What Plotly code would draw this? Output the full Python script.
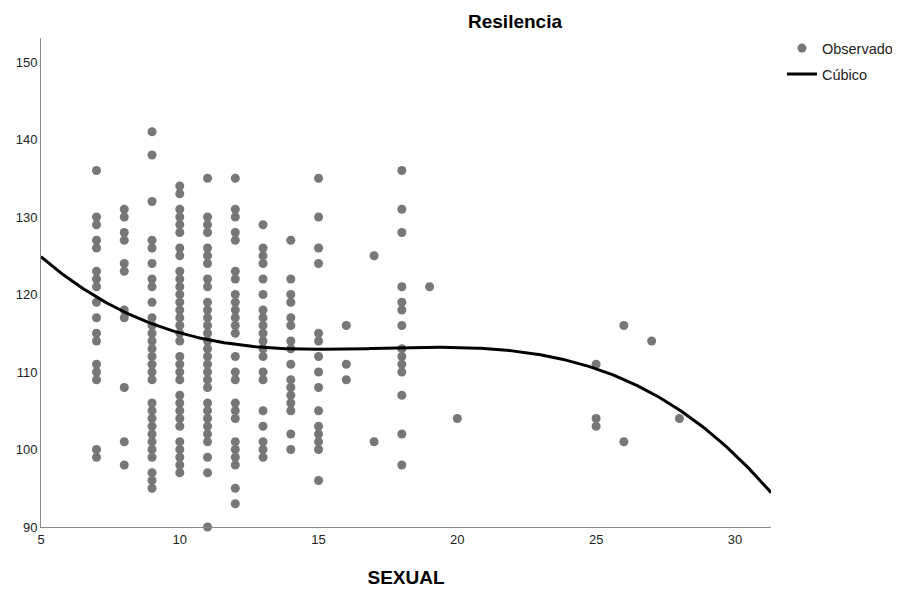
import numpy as np
import plotly.graph_objects as go

# Observed data: SEXUAL (x) and Resilencia (y), one list per SEXUAL value
x7 = [136,130,129,127,126,123,122,121,119,117,115,114,111,110,109,100,99]
x8 = [131,130,128,127,124,123,118,117,108,101,98]
x9 = [141,138,132,127,126,124,122,121,119,117,116,115,114,113,112,111,110,109,
      106,105,104,103,102,101,100,99,97,96,95]
x10 = [134,133,131,130,129,128,126,125,123,122,121,120,119,118,117,116,115,114,
       112,111,110,109,107,106,105,104,103,101,100,99,98,97]
x11 = [135,130,129,128,126,125,124,122,121,119,118,117,116,115,114,113,112,111,
       110,109,108,106,105,104,103,102,101,99,97,90]
x12 = [135,131,130,128,127,123,122,120,119,118,117,116,115,112,110,109,106,105,
       104,101,100,99,98,95,93]
x13 = [129,126,125,124,122,120,118,117,116,115,114,113,112,110,109,105,103,101,100,99]
x14 = [127,122,120,119,117,116,114,113,111,109,108,107,106,105,102,100]
x15 = [135,130,126,124,115,114,112,110,108,105,103,102,101,100,96]
x16 = [116,111,109]
x17 = [125,101]
x18 = [136,131,128,121,119,118,116,113,112,111,110,107,102,98]
x19 = [121]
x20 = [104]
x25 = [111,104,103]
x26 = [116,101]
x27 = [114]
x28 = [104]

columns = {7: x7, 8: x8, 9: x9, 10: x10, 11: x11, 12: x12, 13: x13, 14: x14,
           15: x15, 16: x16, 17: x17, 18: x18, 19: x19, 20: x20, 25: x25,
           26: x26, 27: x27, 28: x28}

# Cubic fit curve: values
curve_x = [5, 10, 12.35, 15.95, 19.7, 23.7, 25.04, 28.03, 31.3]
curve_y = [124.8, 115.2, 113.5, 112.8, 113.0, 111.5, 110.9, 104.9, 94.4]

xtick_vals = [5, 10, 15, 20, 25, 30]
ytick_vals = [90, 100, 110, 120, 130, 140, 150]

xs = []
ys = []
for k, vals in columns.items():
    xs += [k] * len(vals)
    ys += vals

coef = np.polyfit(curve_x, curve_y, 3)
xc = np.linspace(5, 31.3, 300)
yc = np.polyval(coef, xc)

W, H = 892, 582  # page has an 8px body margin

fig = go.Figure()
fig.add_trace(go.Scatter(
    x=xs, y=ys, mode="markers", name="Observado", legendgroup="a",
    marker=dict(color="#777777", size=9, line=dict(width=0)),
    cliponaxis=False,
))
fig.add_trace(go.Scatter(
    x=xc, y=yc, mode="lines", name="Cúbico", legendgroup="b",
    line=dict(color="black", width=3),
))

fig.update_layout(
    width=W, height=H,
    plot_bgcolor="white", paper_bgcolor="white",
    margin=dict(l=33, r=129, t=30, b=63, autoexpand=False),
    font=dict(family="Liberation Sans, Arial, sans-serif", size=13, color="#222222"),
    title=dict(text="<b>Resilencia</b>", x=507/W, xanchor="center", xref="container",
               y=1-13/H, yanchor="middle", yref="container",
               font=dict(size=19, color="black")),
    xaxis=dict(range=[5, 31.3], tickvals=xtick_vals, showgrid=False, zeroline=False,
               showline=True, linecolor="#888888", linewidth=1, ticks="",
               automargin=False, tickfont=dict(size=13),
               title=dict(text="<b>SEXUAL</b>", font=dict(size=19, color="black"), standoff=25)),
    yaxis=dict(range=[90, 153.1], tickvals=ytick_vals, showgrid=False, zeroline=False,
               showline=True, linecolor="#888888", linewidth=1, ticks="",
               automargin=False, tickfont=dict(size=13), title=None),
    legend=dict(x=1.015, xanchor="left", y=1.012, yanchor="top",
                font=dict(size=14.5, color="#222222"), bgcolor="rgba(0,0,0,0)",
                tracegroupgap=4, itemwidth=30),
    showlegend=True,
)

fig.write_html("out.html")
